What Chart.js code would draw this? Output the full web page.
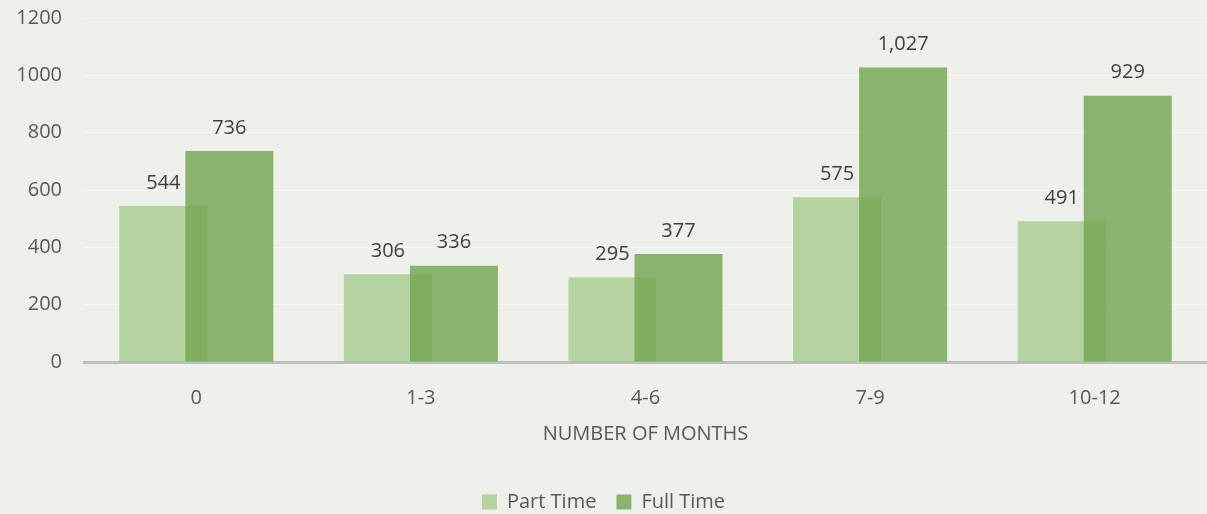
<!DOCTYPE html>
<html>
<head>
<meta charset="utf-8">
<script src="https://cdn.jsdelivr.net/npm/chart.js@4/dist/chart.umd.min.js"></script>
<style>
  html, body { margin: 0; padding: 0; background: #eef1ea; overflow: hidden; }
  #wrap { width: 1207px; height: 514px; position: relative; }
</style>
</head>
<body>
<div id="wrap"><canvas id="myBarChart"></canvas></div>
<script>
// data
const months = ['0', '1-3', '4-6', '7-9', '10-12'];
const partTime = [544, 306, 295, 575, 491];
const fullTime = [736, 336, 377, 1027, 929];
const yTicks = [0, 200, 400, 600, 800, 1000, 1200];

const fontFam = "'Open Sans', 'Noto Sans', sans-serif";

// draw Part Time first so Full Time sits over it
const drawOrder = {
  id: 'drawOrder',
  beforeDatasetsDraw(chart) {
    const a = chart.chartArea;
    const ctx = chart.ctx;
    ctx.save();
    ctx.beginPath();
    ctx.rect(a.left, a.top - 2, a.right - a.left, a.bottom - a.top + 2);
    ctx.clip();
    chart.data.datasets.forEach((ds, i) => {
      chart.getDatasetMeta(i).controller.draw();
    });
    ctx.restore();
    return false;
  }
};

// labels above each bar
const barLabels = {
  id: 'barLabels',
  afterDraw(chart) {
    const ctx = chart.ctx;
    ctx.save();
    ctx.font = '20px ' + fontFam;
    ctx.fillStyle = '#404040';
    ctx.textAlign = 'center';
    ctx.textBaseline = 'bottom';
    chart.data.datasets.forEach((ds, i) => {
      chart.getDatasetMeta(i).data.forEach((bar, j) => {
        ctx.fillText(ds.data[j].toLocaleString('en-US'), bar.x, bar.y - 13);
      });
    });
    ctx.restore();
  }
};

const ctxBar = document.getElementById('myBarChart').getContext('2d');
const myBarChart = new Chart(ctxBar, {
  type: 'bar',
  data: {
    labels: months,
    datasets: [{
      label: 'Part Time',
      data: partTime,
      backgroundColor: 'rgba(160, 200, 135, 0.75)'
    }, {
      label: 'Full Time',
      data: fullTime,
      backgroundColor: 'rgba(112, 165, 78, 0.8)'
    }]
  },
  options: {
    responsive: true,
    maintainAspectRatio: false,
    animation: false,
    categoryPercentage: 0.588,
    barPercentage: 1.333,
    layout: { padding: { top: 18, right: 0, bottom: -8, left: 0 } },
    plugins: {
      tooltip: { enabled: false },
      legend: {
        position: 'bottom',
        labels: {
          font: { family: fontFam, size: 20 },
          color: '#595959',
          boxWidth: 15,
          boxHeight: 15,
          padding: 20
        }
      }
    },
    scales: {
      x: {
        grid: { display: false, drawTicks: false },
        border: { color: '#bfbfbf', width: 3 },
        ticks: { font: { family: fontFam, size: 20 }, color: '#595959', padding: 24 },
        title: {
          display: true,
          text: 'NUMBER OF MONTHS',
          font: { family: fontFam, size: 20 },
          color: '#595959',
          padding: { top: 10, bottom: 26 }
        },
        afterFit(scale) { scale.height = 110; }
      },
      y: {
        min: 0,
        max: 1200,
        afterBuildTicks(scale) { scale.ticks = yTicks.map(v => ({ value: v })); },
        grid: { color: 'rgba(255, 255, 255, 0.45)', drawTicks: false },
        border: { display: false },
        ticks: {
          font: { family: fontFam, size: 20 },
          color: '#595959',
          padding: 22,
          callback: (v) => String(v)
        },
        afterFit(scale) {
          scale.width = 84;
          scale.paddingTop = 0;
          scale.paddingBottom = 0;
        }
      }
    }
  },
  plugins: [drawOrder, barLabels]
});
</script>
</body>
</html>
